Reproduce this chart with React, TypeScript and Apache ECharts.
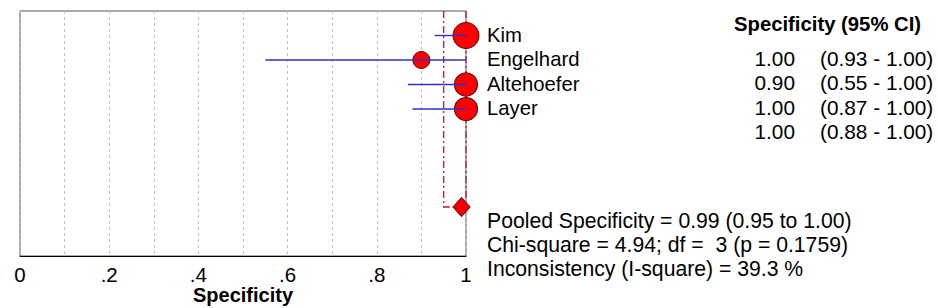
import React, { useEffect, useRef } from "react";
import * as echarts from "echarts";

// Study-level specificity with 95% confidence intervals
const studies = ["Kim", "Engelhard", "Altehoefer", "Layer"];
const specificity = [1.0, 0.9, 1.0, 1.0];
const ciLower = [0.93, 0.55, 0.87, 0.88];
const ciUpper = [1.0, 1.0, 1.0, 1.0];
// relative study weights (%), drive the marker area
const studyWeight = [33.4, 14.3, 26.2, 26.1];

// Pooled result and heterogeneity statistics
const pooledEstimate = 0.99;
const pooledLower = 0.95;
const pooledUpper = 1.0;
const chiSquare = 4.94;
const degreesOfFreedom = 3;
const pValue = 0.1759;
const iSquare = 39.3;

// x axis tick labels, one for every 0.2
const xTickLabels = ["0", ".2", ".4", ".6", ".8", "1"];

const FONT = "'Liberation Sans', Arial, sans-serif";
const FS = 20;
const POOLED_ROW = 8;
const ROW_COUNT = 10;

export default function App() {
  const ref = useRef<HTMLDivElement>(null);

  useEffect(() => {
    document.body.style.margin = "0";
    if (!ref.current) return;
    const chart = echarts.init(ref.current, null, { renderer: "svg" });

    const textStyle = (text: string, extra: any = {}) => ({
      text,
      fontSize: FS,
      fontFamily: FONT,
      fill: "#000",
      verticalAlign: "middle",
      ...extra,
    });

    chart.setOption({
      animation: false,
      textStyle: { fontFamily: FONT },
      grid: {
        left: 20,
        top: 11,
        width: 446,
        height: 245,
        show: true,
        borderColor: "#555",
        borderWidth: 1,
        backgroundColor: "transparent",
        containLabel: false,
        outerBoundsMode: "none",
      },
      xAxis: {
        type: "value",
        min: 0,
        max: 1,
        interval: 0.1,
        axisLine: { show: true, onZero: false, lineStyle: { color: "#000", width: 1 } },
        axisTick: { show: false },
        axisLabel: {
          color: "#000",
          fontSize: 20.5,
          margin: 8,
          fontFamily: FONT,
          formatter: (v: number) => {
            const k = Math.round(v * 10);
            return k % 2 === 0 ? xTickLabels[k / 2] : "";
          },
        },
        splitLine: { show: true, lineStyle: { color: "#c4c4c4", type: [3, 3], width: 1 } },
        name: "Specificity",
        nameLocation: "middle",
        nameGap: 29,
        nameMoveOverlap: false,
        nameTextStyle: { fontSize: FS, fontWeight: "bold", color: "#000", fontFamily: FONT },
      },
      yAxis: {
        type: "value",
        min: 0,
        max: ROW_COUNT,
        inverse: true,
        show: false,
      },
      series: [
        // pooled reference lines (dash-dot) leading to the pooled marker
        {
          type: "custom",
          z: 2,
          data: [[pooledLower, pooledUpper, pooledEstimate, POOLED_ROW]],
          renderItem: (_p: any, api: any) => {
            const row = api.value(3);
            const top = api.coord([api.value(0), 0]);
            const low = api.coord([api.value(0), row]);
            const est = api.coord([api.value(2), row]);
            const upTop = api.coord([api.value(1), 0]);
            const upBot = api.coord([api.value(1), row]);
            const st = { stroke: "#cc1426", lineWidth: 1.3, lineDash: [7, 3, 2, 3], fill: null };
            return {
              type: "group",
              children: [
                {
                  type: "polyline",
                  shape: { points: [top, low, [est[0] - 8, low[1]]] },
                  style: st,
                },
                {
                  type: "line",
                  shape: { x1: upTop[0], y1: upTop[1], x2: upBot[0], y2: upBot[1] - 9 },
                  style: st,
                },
              ],
            };
          },
        },
        // study point estimates, marker area by weight
        {
          type: "scatter",
          z: 3,
          data: studies.map((s, i) => ({ name: s, value: [specificity[i], i + 1, studyWeight[i]] })),
          symbol: "circle",
          symbolSize: (val: number[]) => Math.sqrt(val[2]) * 4.5,
          itemStyle: { color: "#ff0000", borderColor: "#5e0000", borderWidth: 1, opacity: 1 },
        },
        // confidence interval lines
        {
          type: "custom",
          z: 4,
          data: studies.map((s, i) => [ciLower[i], ciUpper[i], i + 1]),
          encode: { x: [0, 1], y: 2 },
          renderItem: (_p: any, api: any) => {
            const a = api.coord([api.value(0), api.value(2)]);
            const b = api.coord([api.value(1), api.value(2)]);
            return {
              type: "line",
              shape: { x1: a[0], y1: a[1], x2: b[0], y2: b[1] },
              style: { stroke: "#3030c4", lineWidth: 1.4 },
            };
          },
        },
        // pooled estimate marker
        {
          type: "scatter",
          z: 5,
          data: [[pooledEstimate, POOLED_ROW]],
          symbol: "diamond",
          symbolSize: [17, 19],
          itemStyle: { color: "#f00000", borderColor: "#7a0000", borderWidth: 1, opacity: 1 },
        },
        // study names beside the null line
        {
          type: "custom",
          z: 6,
          data: studies.map((s, i) => [1, i + 1]),
          renderItem: (p: any, api: any) => {
            const c = api.coord([api.value(0), api.value(1)]);
            return {
              type: "text",
              x: c[0] + 21,
              y: c[1] - 1,
              style: textStyle(studies[p.dataIndex], { align: "left", fontSize: 20.3 }),
            };
          },
        },
        // table of estimates with intervals
        {
          type: "custom",
          z: 6,
          data: studies.map((s, i) => [1, i + 2]),
          renderItem: (p: any, api: any) => {
            const i = p.dataIndex;
            const c = api.coord([api.value(0), api.value(1)]);
            return {
              type: "group",
              children: [
                {
                  type: "text",
                  x: 795,
                  y: c[1] - 2,
                  style: textStyle(specificity[i].toFixed(2), { align: "right", fontSize: 20.8 }),
                },
                {
                  type: "text",
                  x: 820,
                  y: c[1] - 2,
                  style: textStyle(
                    `(${ciLower[i].toFixed(2)} - ${ciUpper[i].toFixed(2)})`,
                    { align: "left", fontSize: 20.8 }
                  ),
                },
              ],
            };
          },
        },
      ],
      graphic: [
        {
          type: "text",
          x: 734,
          y: 24,
          style: textStyle("Specificity (95% CI)", { fontWeight: "bold", align: "left", fontSize: 20.3 }),
        },
        {
          type: "text",
          x: 487,
          y: 220,
          style: textStyle(
            `Pooled Specificity = ${pooledEstimate.toFixed(2)} (${pooledLower.toFixed(2)} to ${pooledUpper.toFixed(2)})`,
            { align: "left", fontSize: 21.2 }
          ),
        },
        {
          type: "text",
          x: 487,
          y: 244,
          style: textStyle(
            `Chi-square = ${chiSquare.toFixed(2)}; df =  ${degreesOfFreedom} (p = ${pValue.toFixed(4)})`,
            { align: "left", fontSize: 21.2 }
          ),
        },
        {
          type: "text",
          x: 487,
          y: 268,
          style: textStyle(`Inconsistency (I-square) = ${iSquare.toFixed(1)} %`, {
            align: "left",
            fontSize: 21.2,
          }),
        },
      ],
    });

    return () => chart.dispose();
  }, []);

  return <div ref={ref} style={{ width: 938, height: 308 }} />;
}
